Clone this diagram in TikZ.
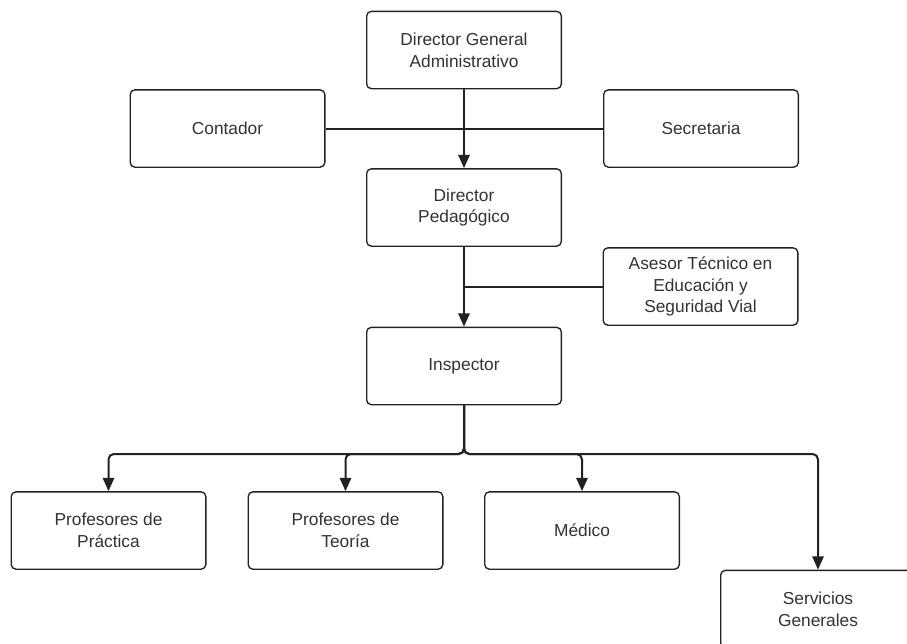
\documentclass[tikz,border=0pt]{standalone}
\usepackage{fontspec}
\setmainfont{Liberation Sans}
\usepackage{tikz}
\usetikzlibrary{arrows.meta}
\definecolor{linegray}{HTML}{222222}
\definecolor{textgray}{HTML}{333333}
\tikzset{
    boxnode/.style={align=center,inner sep=0pt,text centered,rectangle,rounded corners=3.5pt,draw=linegray,line width=1pt,minimum width=146pt,minimum height=58pt,text=textgray,font=\fontsize{13}{16.3}\selectfont},
    link/.style={draw=linegray,line width=1.5pt},
    bus/.style={link,rounded corners=4pt}
}
\begin{document}
\begin{tikzpicture}[x=0.75pt,y=-0.75pt,>={Triangle[length=10pt,width=8.5pt]}]
				
				\path[use as bounding box,clip] (0,0) rectangle (907,643);
				\fill[white] (0,0) rectangle (907,643);
				
				\node[boxnode](DGA) at (464,50){Director General\\Administrativo};
				\node[boxnode](CO) at (227.5,128.5){Contador};
				\node[boxnode](SE) at (701,128.5){Secretaria};
				\node[boxnode](DP) at (464,207.5){Director\\Pedagógico};
				\node[boxnode](AT) at (700.5,286.5){Asesor Técnico en\\Educación y\\Seguridad Vial};
				\node[boxnode](IN) at (464,366){Inspector};
				\node[boxnode](PP) at (108.5,530.5){Profesores de\\Práctica};
				\node[boxnode](PT) at (345.5,530.5){Profesores de\\Teoría};
				\node[boxnode](ME) at (582,530.5){Médico};
				\node[boxnode](SG) at (818,609){Servicios\\Generales};
				\coordinate (BUS) at (464,454);
				
				\path
				(CO.east) edge[link] (SE.west)
				(AT.west) edge[link] (AT.west -| DP.south)
				(DGA) edge[link,->] (DP)
				(DP) edge[link,->] (IN);
				\draw[bus,->] (IN.south) -- (BUS) -| (PP.north);
				\draw[bus,->] (IN.south) -- (BUS) -| (PT.north);
				\draw[bus,->] (IN.south) -- (BUS) -| (ME.north);
				\draw[bus,->] (IN.south) -- (BUS) -| (SG.north);
			\end{tikzpicture}
\end{document}
